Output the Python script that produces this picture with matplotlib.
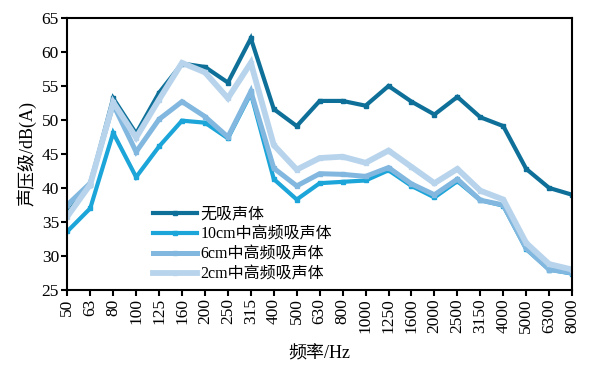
import matplotlib
matplotlib.use("Agg")
from matplotlib import pyplot as plt

# 1/3 octave band centre frequencies
freqs = ["50", "63", "80", "100", "125", "160", "200", "250", "315", "400", "500",
         "630", "800", "1000", "1250", "1600", "2000", "2500", "3150", "4000",
         "5000", "6300", "8000"]

no_absorber = [36.3, 40.5, 53.2, 48.0, 54.0, 58.3, 57.8, 55.5, 62.0, 51.6, 49.1,
               52.8, 52.8, 52.1, 55.0, 52.7, 50.8, 53.4, 50.4, 49.1, 42.8, 40.0, 39.0]
abs_10cm = [33.6, 37.0, 48.1, 41.6, 46.1, 49.9, 49.6, 47.3, 53.9, 41.3, 38.3,
            40.7, 40.9, 41.1, 42.6, 40.3, 38.6, 41.0, 38.2, 37.4, 31.0, 28.0, 27.4]
abs_6cm = [37.5, 40.7, 52.3, 45.3, 50.1, 52.7, 50.5, 47.5, 54.2, 42.9, 40.3,
           42.1, 42.0, 41.7, 43.0, 40.6, 39.0, 41.3, 38.2, 37.5, 31.1, 28.0, 27.5]
abs_2cm = [35.8, 40.5, 52.6, 47.4, 53.0, 58.4, 57.0, 53.2, 58.4, 46.3, 42.7,
           44.4, 44.6, 43.7, 45.5, 43.1, 40.7, 42.8, 39.6, 38.3, 31.9, 28.8, 28.0]

labels = ["无吸声体", "10cm中高频吸声体", "6cm中高频吸声体", "2cm中高频吸声体"]
colors = ["#0e7099", "#1ca5d9", "#82b8df", "#b8d4ec"]
widths = [3.0, 3.0, 3.6, 4.2]

plt.rcParams["font.family"] = ["Liberation Serif", "Noto Sans CJK SC"]
plt.rcParams["font.size"] = 12

fig = plt.figure(figsize=(5.97, 3.67), dpi=100)
ax = fig.add_axes([0.1127, 0.21, 0.8456, 0.741])

x = list(range(len(freqs)))
for ys, lab, c, lw in zip([no_absorber, abs_10cm, abs_6cm, abs_2cm], labels, colors, widths):
    ax.plot(x, ys, color=c, lw=lw, marker="s", markersize=3.4, label=lab,
            solid_joinstyle="miter")

ax.set_xlim(0, len(freqs) - 1)
ax.set_ylim(25, 65)
ax.set_xticks(x)
ax.set_xticklabels(freqs, rotation=90)
ax.set_yticks(range(25, 66, 5))
ax.tick_params(direction="out", length=4, width=1.5, labelsize=12.5, color="black", pad=2)
for s in ax.spines.values():
    s.set_linewidth(1.5)

ax.set_xlabel("频率/Hz", fontsize=13, labelpad=9)
ax.set_ylabel("声压级/dB(A)", fontsize=13, labelpad=4)

ax.legend(loc="upper left", bbox_to_anchor=(0.17, 0.308), frameon=False,
          fontsize=11.5, handlelength=2.75, handletextpad=0.2, labelspacing=0.25,
          borderaxespad=0, borderpad=0)

fig.savefig("out.png", dpi=100)
